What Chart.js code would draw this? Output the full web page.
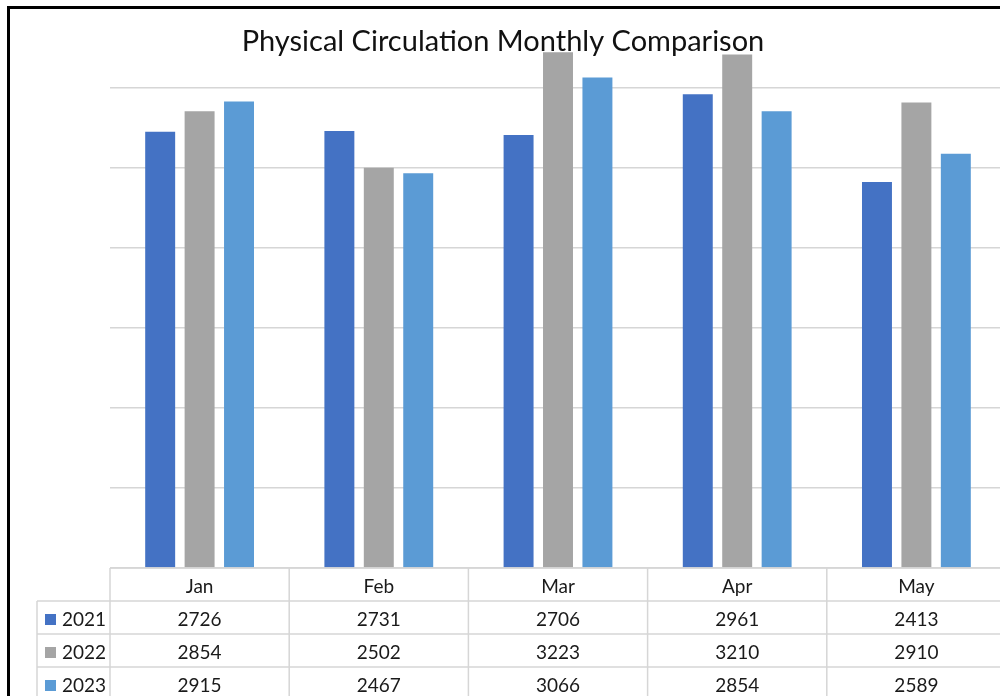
<!DOCTYPE html>
<html>
<head>
<meta charset="utf-8">
<title>Physical Circulation Monthly Comparison</title>
<script src="https://cdn.jsdelivr.net/npm/chart.js@4"></script>
<style>
  html, body { margin: 0; padding: 0; background: #fff; overflow: hidden; }
  #wrap { position: relative; width: 1010px; height: 696px; }
</style>
</head>
<body>
<div id="wrap"><canvas id="chart" width="1010" height="696"></canvas></div>
<script>
// ── Data ─────────────────────────────────────────────────────
const months   = ["Jan", "Feb", "Mar", "Apr", "May"];
const years    = ["2021", "2022", "2023"];
const vals2021 = [2726, 2731, 2706, 2961, 2413];
const vals2022 = [2854, 2502, 3223, 3210, 2910];
const vals2023 = [2915, 2467, 3066, 2854, 2589];
const colors   = ["#4472C4", "#A5A5A5", "#5B9BD5"];

const TITLE = "Physical Circulation Monthly Comparison";
const FONT  = "Lato, 'Open Sans', sans-serif";
const LINE  = "#d6d6d6";

// ── Data table + title + frame (Excel style) ─────────────────
const excelDecor = {
  id: "excelDecor",
  afterDraw(chart) {
    const ctx = chart.ctx;
    const x = chart.scales.x;
    const area = chart.chartArea;
    const rowH = 33;
    const top = area.bottom;
    const legendLeft = 37;
    const half = (x.getPixelForValue(1) - x.getPixelForValue(0)) / 2;

    ctx.save();

    // grid of the table
    ctx.strokeStyle = LINE;
    ctx.lineWidth = 1.5;
    ctx.beginPath();
    ctx.moveTo(area.left, top); ctx.lineTo(area.right, top);
    for (let r = 1; r <= 3; r++) {
      ctx.moveTo(legendLeft, top + r * rowH); ctx.lineTo(area.right, top + r * rowH);
    }
    ctx.moveTo(legendLeft, top + rowH); ctx.lineTo(legendLeft, chart.height);
    months.forEach((m, i) => {
      const cx = x.getPixelForValue(i);
      ctx.moveTo(cx - half, top); ctx.lineTo(cx - half, chart.height);
    });
    ctx.moveTo(area.right, top); ctx.lineTo(area.right, chart.height);
    ctx.stroke();

    // header + values
    ctx.fillStyle = "#1a1a1a";
    ctx.font = "19px " + FONT;
    ctx.textAlign = "center";
    ctx.textBaseline = "alphabetic";
    months.forEach((m, i) => {
      ctx.fillText(m, x.getPixelForValue(i), top + 25);
    });
    chart.data.datasets.forEach((ds, r) => {
      const base = top + rowH * (r + 1) + 25;
      ds.data.forEach((v, i) => ctx.fillText(String(v), x.getPixelForValue(i), base));
      // legend key
      ctx.fillStyle = ds.backgroundColor;
      ctx.fillRect(45, base - 12, 11, 11);
      ctx.fillStyle = "#1a1a1a";
      ctx.textAlign = "left";
      ctx.fillText(ds.label, 62, base);
      ctx.textAlign = "center";
    });

    // title
    ctx.font = "29px " + FONT;
    ctx.fillStyle = "#111";
    ctx.fillText(TITLE, 503, 51);

    // outer frame (cropped on the right and bottom)
    ctx.fillStyle = "#000";
    ctx.fillRect(7, 6, chart.width, 3);
    ctx.fillRect(7, 6, 3, chart.height);
    ctx.restore();
  },
};

// ── Chart ────────────────────────────────────────────────────
const series = [vals2021, vals2022, vals2023];

new Chart(document.getElementById("chart"), {
  type: "bar",
  data: {
    labels: months,
    datasets: years.map((y, i) => ({
      label: y,
      data: series[i],
      backgroundColor: colors[i],
      barPercentage: 0.76,
      categoryPercentage: 0.66,
    })),
  },
  options: {
    responsive: false,
    animation: false,
    layout: { padding: { left: 110, top: 8, right: 4, bottom: 128 } },
    plugins: {
      legend:  { display: false },
      title:   { display: false },
      tooltip: { enabled: false },
    },
    scales: {
      x: { display: false },
      y: {
        min: 0,
        max: 3500,
        ticks:  { display: false, stepSize: 500 },
        grid:   { color: LINE, lineWidth: 1.5, drawTicks: false },
        border: { display: false },
      },
    },
  },
  plugins: [excelDecor],
});
</script>
</body>
</html>
